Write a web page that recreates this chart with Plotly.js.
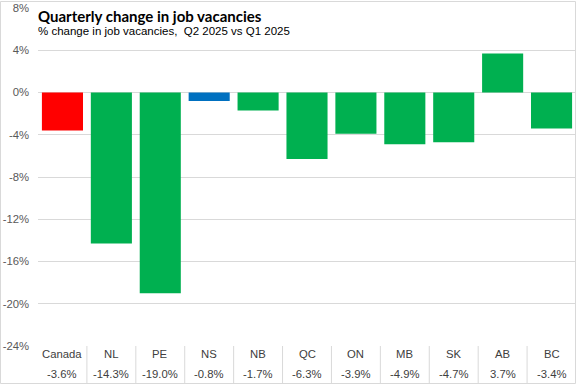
<!DOCTYPE html>
<html>
<head>
<meta charset="utf-8">
<script src="https://cdn.plot.ly/plotly-3.0.1.min.js"></script>
<style>
  html, body { margin: 0; padding: 0; background: #ffffff; }
  #chart { width: 577px; height: 385px; }
</style>
</head>
<body>
<div id="chart"></div>
<script>
// ---- data ----
const categories = ["Canada", "NL", "PE", "NS", "NB", "QC", "ON", "MB", "SK", "AB", "BC"];
const changePct = [-3.6, -14.3, -19.0, -0.8, -1.7, -6.3, -3.9, -4.9, -4.7, 3.7, -3.4];
const valueLabels = ["-3.6%", "-14.3%", "-19.0%", "-0.8%", "-1.7%", "-6.3%", "-3.9%", "-4.9%", "-4.7%", "3.7%", "-3.4%"];
const yTickVals = [-24, -20, -16, -12, -8, -4, 0, 4, 8];
const yTickText = ["-24%", "-20%", "-16%", "-12%", "-8%", "-4%", "0%", "4%", "8%"];
const titleText = "Quarterly change in job vacancies";
const subtitleText = "% change in job vacancies,  Q2 2025 vs Q1 2025";

// ---- style ----
const barColors = ["#FF0000", "#00B050", "#00B050", "#0070C0", "#00B050", "#00B050",
                   "#00B050", "#00B050", "#00B050", "#00B050", "#00B050"];
const W = 577, H = 385;
const M = { l: 38, r: 1, t: 8, b: 39 };
const plotW = W - M.l - M.r, plotH = H - M.t - M.b;
const px2x = px => (px - M.l) / plotW;
const py2y = py => (H - M.b - py) / plotH;
const gridColor = "#D9D9D9";
const textColor = "#404040";
const xIdx = categories.map((c, i) => i);

const shapes = [];
// chart outer border
shapes.push({ type: "rect", xref: "paper", yref: "paper",
  x0: px2x(0.5), x1: px2x(575.5), y0: py2y(1.5), y1: py2y(383.5),
  line: { color: gridColor, width: 1 }, fillcolor: "rgba(0,0,0,0)", layer: "below" });
// data table vertical separators
for (let i = 0; i < categories.length - 1; i++) {
  shapes.push({ type: "line", xref: "x", yref: "paper",
    x0: i + 0.5, x1: i + 0.5, y0: 0, y1: py2y(383.5),
    line: { color: gridColor, width: 1 } });
}

const annotations = [];
annotations.push({ xref: "paper", yref: "paper", x: px2x(36), y: py2y(5.5), xanchor: "left", yanchor: "top",
  text: "<b>" + titleText + "</b>", showarrow: false,
  font: { family: "Lato, sans-serif", size: 15, color: "#000000" } });
annotations.push({ xref: "paper", yref: "paper", x: px2x(36), y: py2y(22.5), xanchor: "left", yanchor: "top",
  text: subtitleText, showarrow: false,
  font: { family: "Liberation Sans, Arial, sans-serif", size: 11.5, color: "#000000" } });
categories.forEach((c, i) => {
  annotations.push({ xref: "x", yref: "paper", x: i, y: py2y(354), yanchor: "middle",
    text: c, showarrow: false, font: { family: "Liberation Sans, Arial, sans-serif", size: 11.3, color: textColor } });
  annotations.push({ xref: "x", yref: "paper", x: i, y: py2y(374), yanchor: "middle",
    text: valueLabels[i], showarrow: false, font: { family: "Liberation Sans, Arial, sans-serif", size: 11.3, color: textColor } });
});

const trace = {
  type: "bar",
  x: xIdx,
  y: changePct,
  marker: { color: barColors, line: { width: 0 } },
  hoverinfo: "skip"
};

const layout = {
  width: W, height: H,
  margin: M,
  paper_bgcolor: "#FFFFFF", plot_bgcolor: "#FFFFFF",
  showlegend: false,
  bargap: 0.16,
  font: { family: "Liberation Sans, Arial, sans-serif", color: "#595959" },
  xaxis: { range: [-0.5, categories.length - 0.5], showticklabels: false, showgrid: false,
           zeroline: false, showline: false, ticks: "", fixedrange: true },
  yaxis: { range: [-24, 8], tickvals: yTickVals, ticktext: yTickText, showgrid: true,
           gridcolor: gridColor, gridwidth: 1, zeroline: false, showline: false, ticks: "",
           ticklabelstandoff: 8, tickfont: { size: 11.3, color: "#595959" }, fixedrange: true },
  shapes: shapes,
  annotations: annotations
};

Plotly.newPlot("chart", [trace], layout, { displayModeBar: false, staticPlot: true });
</script>
</body>
</html>
